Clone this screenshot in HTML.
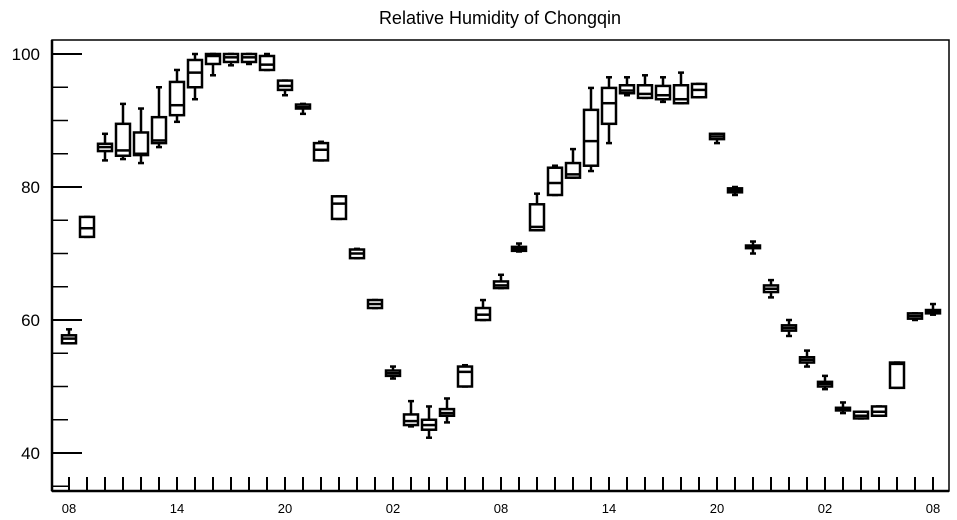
<!DOCTYPE html>
<html><head><meta charset="utf-8"><style>
html,body{margin:0;padding:0;background:#fff;}
svg{display:block;font-family:"Liberation Sans",Arial,sans-serif;}
</style></head><body>
<svg id="chart" width="957" height="520" viewBox="0 0 957 520"></svg>
<script>
const hourLabels = ["08","14","20","02","08","14","20","02","08"];
const yTicks = [40,60,80,100];
const mins = [56.5,72.5,84,84.2,83.6,86,89.8,93.2,96.8,98.3,98.5,97.6,93.8,91,84,75.2,69.3,61.8,51.2,44,42.3,44.6,50,60,64.8,70.3,73.5,78.8,81.4,82.4,86.6,93.8,93.4,92.8,92.6,93.5,86.6,78.8,70,63.4,57.6,53,49.6,46,45.2,45.6,49.8,60,60.8];
const q1s = [56.5,72.5,85.4,84.7,84.8,86.6,90.8,95,98.5,98.8,98.8,97.6,94.6,91.8,84,75.2,69.3,61.8,51.6,44.2,43.5,45.6,50,60,64.8,70.4,73.5,78.8,81.4,83.2,89.5,94.1,93.4,93.2,92.6,93.5,87.2,79.2,70.8,64.2,58.4,53.6,50,46.4,45.2,45.6,49.8,60.2,61];
const medians = [57.2,73.8,86,85.5,85,87,92.3,97.2,99.7,99.5,99.5,98.4,95.2,92,85.6,77.5,70,62.4,52,44.8,44.2,46,52.2,60.8,65.2,70.7,74,80.6,81.9,86.9,92.6,94.5,94,93.8,93.2,94.6,87.6,79.5,71,64.7,58.8,54,50.4,46.6,45.6,46.2,53.4,60.6,61.2];
const q3s = [57.7,75.5,86.5,89.5,88.2,90.5,95.8,99.1,100,100,100,99.7,96,92.4,86.6,78.6,70.6,63,52.4,45.8,45,46.6,53,61.8,65.8,71,77.4,82.9,83.6,91.6,94.9,95.3,95.3,95.2,95.3,95.5,88,79.8,71.2,65.2,59.2,54.4,50.7,46.8,46.2,47,53.6,61,61.5];
const maxs = [58.6,75.5,88,92.5,91.8,95,97.6,100,100,100,100,100,96,92.5,86.8,78.6,70.7,63,53,47.8,47,48.2,53.2,63,66.8,71.5,79,83.2,85.7,94.9,96.5,96.5,96.8,96.5,97.2,95.5,88,80,71.8,66,60,55.4,51.6,47.6,46.2,47,53.6,61,62.4];

const svg = document.getElementById('chart');
const NS = 'http://www.w3.org/2000/svg';
const L=52, R=949, T=40, B=491;
function y(v){ return 54 + (100 - v) * 6.65; }
function x(i){ return 69 + i * 18; }
function mk(tag, attrs, parent){ const e=document.createElementNS(NS,tag); for(const k in attrs) e.setAttribute(k,attrs[k]); (parent||svg).appendChild(e); return e; }

const title = mk('text',{x:500,y:24,'text-anchor':'middle','font-size':18,fill:'#000'});


title.textContent='Relative Humidity of Chongqin';

const frame = mk('rect',{x:L,y:T,width:R-L,height:B-T,fill:'none',stroke:'#000','stroke-width':1.5});


const yaxis = mk('line',{x1:L,y1:T,x2:L,y2:B,stroke:'#000','stroke-width':2.5});


const xaxis = mk('line',{x1:L,y1:B,x2:R,y2:B,stroke:'#000','stroke-width':2.5});



for(let v=35; v<=100; v+=5){
  const major = yTicks.indexOf(v) >= 0;
  const t = mk('line',{x1:L,y1:y(v),x2:L+(major?30:16),y2:y(v),stroke:'#000','stroke-width':major?2:1.5});
  
  
}
yTicks.forEach(v=>{
  const t = mk('text',{x:40,y:y(v)+6,'text-anchor':'end','font-size':17,fill:'#000'});
  
  
  t.textContent = v;
});
for(let i=0;i<medians.length;i++){
  const t = mk('line',{x1:x(i),y1:B,x2:x(i),y2:B-14,stroke:'#000','stroke-width':2});
  
  
}
hourLabels.forEach((s,k)=>{
  const t = mk('text',{x:x(k*6),y:513,'text-anchor':'middle','font-size':13,fill:'#000'});
  
  
  t.textContent = s;
});

for(let i=0;i<medians.length;i++){
  const g = mk('g',{stroke:'#000','stroke-width':2.5,fill:'none'});
  
  
  const cx=x(i), w=14;
  mk('line',{x1:cx,y1:y(maxs[i]),x2:cx,y2:y(q3s[i])},g);
  mk('line',{x1:cx,y1:y(mins[i]),x2:cx,y2:y(q1s[i])},g);
  mk('line',{x1:cx-3,y1:y(maxs[i]),x2:cx+3,y2:y(maxs[i])},g);
  mk('line',{x1:cx-3,y1:y(mins[i]),x2:cx+3,y2:y(mins[i])},g);
  const h = Math.max(y(q1s[i])-y(q3s[i]),1.5);
  mk('rect',{x:cx-w/2,y:y(q3s[i]),width:w,height:h,fill:'#fff'},g);
  mk('line',{x1:cx-w/2,y1:y(medians[i]),x2:cx+w/2,y2:y(medians[i])},g);
}
</script>
</body></html>
